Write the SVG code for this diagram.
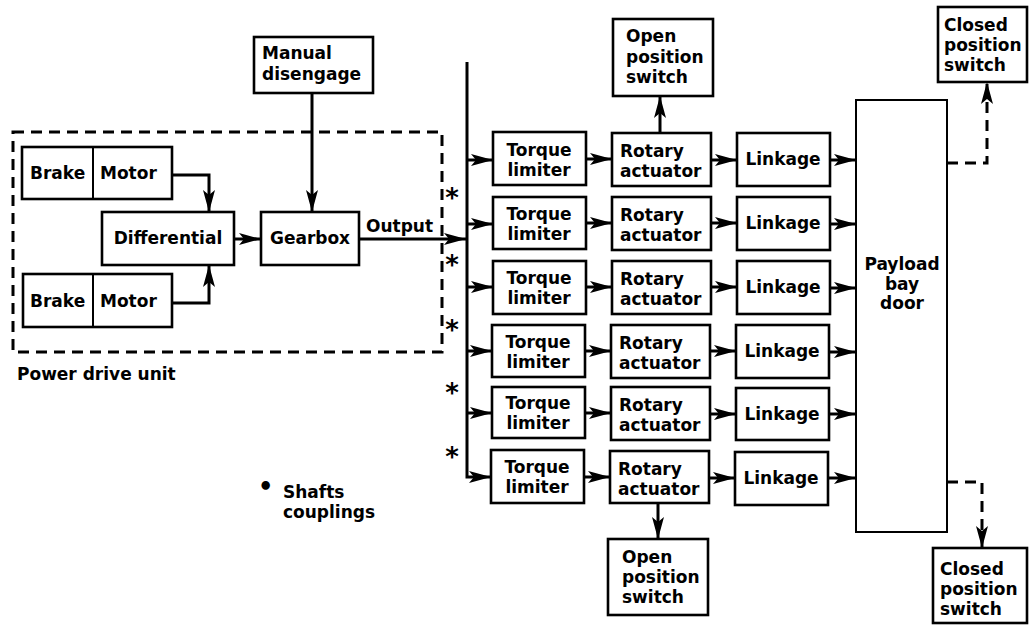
<svg xmlns="http://www.w3.org/2000/svg" width="1029" height="625" viewBox="0 0 1029 625">
<style>
.box{fill:#fff;stroke:#000;stroke-width:2.6}
.thin{fill:#fff;stroke:#000;stroke-width:2}
.t{font-family:"DejaVu Sans","Liberation Sans",sans-serif;font-weight:bold;font-size:17px;fill:#000}
.c{text-anchor:middle}
.ln{fill:none;stroke:#000;stroke-width:3}
.dash{fill:none;stroke:#000;stroke-width:3;stroke-dasharray:11 7}
.star{font-family:"DejaVu Sans",sans-serif;font-weight:bold;font-size:26px;fill:#000;text-anchor:middle}
</style>
<defs>
<marker id="ah" viewBox="0 0 22 12" refX="22" refY="6" markerWidth="22" markerHeight="12" markerUnits="userSpaceOnUse" orient="auto">
<path d="M0,0 L22,6 L0,12 L5,6 z" fill="#000" stroke="none"/>
</marker>
</defs>
<rect width="1029" height="625" fill="#fff"/>

<g id="pdu">
<rect x="13" y="132" width="429" height="220" class="dash"/>
<text class="t" x="17" y="380">Power drive unit</text>
</g>

<g id="manual"><rect class="box" x="254" y="37" width="119" height="56"/>
<text class="t" x="262" y="59">Manual</text><text class="t" x="262" y="80">disengage</text></g>

<g id="brakemotor1"><rect class="box" x="22" y="147" width="150" height="52"/><line x1="93" y1="147" x2="93" y2="199" stroke="#000" stroke-width="2"/>
<text class="t" x="30" y="179">Brake</text><text class="t" x="100" y="179">Motor</text></g>
<g id="brakemotor2"><rect class="box" x="23" y="274" width="149" height="53"/><line x1="93" y1="274" x2="93" y2="327" stroke="#000" stroke-width="2"/>
<text class="t" x="30" y="307">Brake</text><text class="t" x="100" y="307">Motor</text></g>

<g id="differential"><rect class="box" x="102" y="212" width="132" height="53"/>
<text class="t c" x="168" y="244">Differential</text></g>
<g id="gearbox"><rect class="box" x="261" y="212" width="98" height="53"/>
<text class="t c" x="310" y="244">Gearbox</text></g>
<text class="t" x="366" y="232">Output</text>

<g id="stars">
<text class="star" x="452" y="207">*</text>
<text class="star" x="452" y="274">*</text>
<text class="star" x="452" y="339">*</text>
<text class="star" x="452" y="402">*</text>
<text class="star" x="452" y="466">*</text>
</g>

<g id="legend">
<text class="t" x="258" y="495" style="font-size:24px">•</text>
<text class="t" x="283" y="498">Shafts</text>
<text class="t" x="283" y="518">couplings</text>
</g>

<g id="openTop"><rect class="box" x="613" y="19" width="100" height="77"/>
<text class="t" x="626" y="42">Open</text><text class="t" x="626" y="63">position</text><text class="t" x="626" y="83">switch</text></g>
<g id="openBottom"><rect class="box" x="608" y="539" width="100" height="76"/>
<text class="t" x="622" y="563">Open</text><text class="t" x="622" y="583">position</text><text class="t" x="622" y="603">switch</text></g>
<g id="closedTop"><rect class="box" x="938" y="7" width="89" height="75"/>
<text class="t" x="944" y="31">Closed</text><text class="t" x="944" y="51">position</text><text class="t" x="944" y="71">switch</text></g>
<g id="closedBottom"><rect class="box" x="933" y="548" width="94" height="75"/>
<text class="t" x="940" y="575">Closed</text><text class="t" x="940" y="595">position</text><text class="t" x="940" y="615">switch</text></g>

<g id="payload"><rect class="thin" x="856" y="100" width="91" height="432"/>
<text class="t c" x="902" y="270">Payload</text><text class="t c" x="902" y="290">bay</text><text class="t c" x="902" y="309">door</text></g>

<g id="row1">
<g id="torque1"><rect class="box" x="493" y="132" width="93" height="53"/><text class="t c" x="539" y="156">Torque</text><text class="t c" x="539" y="176">limiter</text></g>
<g id="rotary1"><rect class="box" x="612" y="133" width="99" height="53"/><text class="t" x="620" y="157">Rotary</text><text class="t" x="620" y="177">actuator</text></g>
<g id="linkage1"><rect class="box" x="737" y="133" width="93" height="53"/><text class="t c" x="783" y="165">Linkage</text></g>
</g>
<g id="row2">
<g id="torque2"><rect class="box" x="493" y="197" width="93" height="52"/><text class="t c" x="539" y="220">Torque</text><text class="t c" x="539" y="240">limiter</text></g>
<g id="rotary2"><rect class="box" x="612" y="197" width="99" height="53"/><text class="t" x="620" y="221">Rotary</text><text class="t" x="620" y="241">actuator</text></g>
<g id="linkage2"><rect class="box" x="737" y="197" width="93" height="53"/><text class="t c" x="783" y="229">Linkage</text></g>
</g>
<g id="row3">
<g id="torque3"><rect class="box" x="493" y="261" width="93" height="53"/><text class="t c" x="539" y="284">Torque</text><text class="t c" x="539" y="304">limiter</text></g>
<g id="rotary3"><rect class="box" x="612" y="261" width="99" height="53"/><text class="t" x="620" y="285">Rotary</text><text class="t" x="620" y="305">actuator</text></g>
<g id="linkage3"><rect class="box" x="737" y="261" width="93" height="53"/><text class="t c" x="783" y="293">Linkage</text></g>
</g>
<g id="row4">
<g id="torque4"><rect class="box" x="492" y="325" width="93" height="52"/><text class="t c" x="538" y="348">Torque</text><text class="t c" x="538" y="368">limiter</text></g>
<g id="rotary4"><rect class="box" x="611" y="325" width="99" height="53"/><text class="t" x="619" y="349">Rotary</text><text class="t" x="619" y="369">actuator</text></g>
<g id="linkage4"><rect class="box" x="736" y="325" width="93" height="53"/><text class="t c" x="782" y="357">Linkage</text></g>
</g>
<g id="row5">
<g id="torque5"><rect class="box" x="492" y="387" width="93" height="51"/><text class="t c" x="538" y="409">Torque</text><text class="t c" x="538" y="429">limiter</text></g>
<g id="rotary5"><rect class="box" x="611" y="387" width="99" height="53"/><text class="t" x="619" y="411">Rotary</text><text class="t" x="619" y="431">actuator</text></g>
<g id="linkage5"><rect class="box" x="736" y="388" width="93" height="52"/><text class="t c" x="782" y="420">Linkage</text></g>
</g>
<g id="row6">
<g id="torque6"><rect class="box" x="491" y="450" width="93" height="53"/><text class="t c" x="537" y="473">Torque</text><text class="t c" x="537" y="493">limiter</text></g>
<g id="rotary6"><rect class="box" x="610" y="451" width="99" height="52"/><text class="t" x="618" y="475">Rotary</text><text class="t" x="618" y="495">actuator</text></g>
<g id="linkage6"><rect class="box" x="735" y="452" width="93" height="53"/><text class="t c" x="781" y="484">Linkage</text></g>
</g>

<g id="connectors">
<polyline class="ln" points="172,175 209,175 209,212" marker-end="url(#ah)"/>
<polyline class="ln" points="172,303 209,303 209,265" marker-end="url(#ah)"/>
<line class="ln" x1="234" y1="239" x2="261" y2="239" marker-end="url(#ah)"/>
<line class="ln" x1="312" y1="93" x2="312" y2="212" marker-end="url(#ah)"/>
<line class="ln" x1="359" y1="239" x2="466" y2="239" marker-end="url(#ah)"/>
<polyline class="ln" points="467,62 467,477 491,477" marker-end="url(#ah)"/>
<line class="ln" x1="467" y1="160" x2="493" y2="160" marker-end="url(#ah)"/>
<line class="ln" x1="467" y1="224" x2="493" y2="224" marker-end="url(#ah)"/>
<line class="ln" x1="467" y1="287" x2="493" y2="287" marker-end="url(#ah)"/>
<line class="ln" x1="467" y1="351" x2="492" y2="351" marker-end="url(#ah)"/>
<line class="ln" x1="467" y1="413" x2="492" y2="413" marker-end="url(#ah)"/>
<line class="ln" x1="586" y1="159" x2="612" y2="159" marker-end="url(#ah)"/>
<line class="ln" x1="586" y1="223" x2="612" y2="223" marker-end="url(#ah)"/>
<line class="ln" x1="586" y1="287" x2="612" y2="287" marker-end="url(#ah)"/>
<line class="ln" x1="585" y1="351" x2="611" y2="351" marker-end="url(#ah)"/>
<line class="ln" x1="585" y1="413" x2="611" y2="413" marker-end="url(#ah)"/>
<line class="ln" x1="584" y1="477" x2="610" y2="477" marker-end="url(#ah)"/>
<line class="ln" x1="711" y1="160" x2="737" y2="160" marker-end="url(#ah)"/>
<line class="ln" x1="711" y1="223" x2="737" y2="223" marker-end="url(#ah)"/>
<line class="ln" x1="711" y1="287" x2="737" y2="287" marker-end="url(#ah)"/>
<line class="ln" x1="710" y1="351" x2="736" y2="351" marker-end="url(#ah)"/>
<line class="ln" x1="710" y1="414" x2="736" y2="414" marker-end="url(#ah)"/>
<line class="ln" x1="709" y1="478" x2="735" y2="478" marker-end="url(#ah)"/>
<line class="ln" x1="830" y1="160" x2="856" y2="160" marker-end="url(#ah)"/>
<line class="ln" x1="830" y1="224" x2="856" y2="224" marker-end="url(#ah)"/>
<line class="ln" x1="830" y1="288" x2="856" y2="288" marker-end="url(#ah)"/>
<line class="ln" x1="829" y1="352" x2="856" y2="352" marker-end="url(#ah)"/>
<line class="ln" x1="829" y1="414" x2="856" y2="414" marker-end="url(#ah)"/>
<line class="ln" x1="828" y1="478" x2="856" y2="478" marker-end="url(#ah)"/>
<line class="ln" x1="660" y1="133" x2="660" y2="96" marker-end="url(#ah)"/>
<line class="ln" x1="658" y1="503" x2="658" y2="539" marker-end="url(#ah)"/>
<polyline class="dash" points="947,163 987,163 987,82" marker-end="url(#ah)"/>
<polyline class="dash" points="947,482 982,482 982,548" marker-end="url(#ah)"/>
</g>
</svg>
